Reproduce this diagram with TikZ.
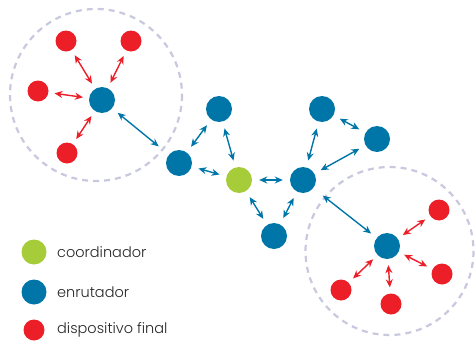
\documentclass[tikz,border=0pt]{standalone}
\usepackage{fontspec}
\setmainfont{Poppins Light}
\usetikzlibrary{arrows.meta}
\definecolor{cblue}{RGB}{0,118,168}
\definecolor{cred}{RGB}{236,30,40}
\definecolor{cgreen}{RGB}{166,204,58}
\definecolor{cring}{RGB}{200,200,222}
\tikzset{
  router/.style={circle,fill=cblue,minimum size=26pt,inner sep=0pt},
  coord/.style={circle,fill=cgreen,minimum size=26pt,inner sep=0pt},
  enddev/.style={circle,fill=cred,minimum size=21pt,inner sep=0pt},
  ring/.style={draw=cring,dashed,dash pattern=on 6pt off 5pt,line width=2.2pt},
  blink/.style={cblue,line width=1.4pt,{Stealth[length=8pt,width=7pt]}-{Stealth[length=8pt,width=7pt]},shorten <=7pt,shorten >=7pt},
  rlink/.style={cred,line width=1.4pt,{Stealth[length=8pt,width=7pt]}-{Stealth[length=8pt,width=7pt]},shorten <=6pt,shorten >=6pt},
  legtext/.style={anchor=west,font=\fontsize{14.5}{16}\selectfont,inner sep=0pt,text=black!85}
}
\begin{document}
\begin{tikzpicture}[x=1pt,y=-1pt]
\useasboundingbox (0,0) rectangle (476,340);
% rings
\draw[ring] (96,95) circle (86);
\draw[ring] (389.5,251) circle (84);
% left cluster
\node[router] (h1) at (102,100) {};
\node[enddev] (r1) at (66,41) {};
\node[enddev] (r2) at (131,41) {};
\node[enddev] (r3) at (38,91) {};
\node[enddev] (r4) at (67,153) {};
% middle
\node[router] (b1) at (179,163) {};
\node[router] (b2) at (219,109) {};
\node[coord] (g) at (239,180) {};
\node[router] (b3) at (303,180) {};
\node[router] (b4) at (274,236) {};
\node[router] (b5) at (322,109) {};
\node[router] (b6) at (377,139) {};
% right cluster
\node[router] (h2) at (387,246) {};
\node[enddev] (s1) at (439,210) {};
\node[enddev] (s2) at (442,274) {};
\node[enddev] (s3) at (391,304) {};
\node[enddev] (s4) at (341,290) {};
% red links
\foreach \r in {r1,r2,r3,r4} \draw[rlink] (h1) -- (\r);
\foreach \s in {s1,s2,s3,s4} \draw[rlink] (h2) -- (\s);
% blue links
\draw[blink,shorten >=13pt] (h1) -- (b1);
\draw[blink] (b1) -- (b2);
\draw[blink] (b2) -- (g);
\draw[blink] (b1) -- (g);
\draw[blink] (g) -- (b3);
\draw[blink] (g) -- (b4);
\draw[blink] (b4) -- (b3);
\draw[blink] (b3) -- (b5);
\draw[blink] (b5) -- (b6);
\draw[blink] (b6) -- (b3);
\draw[blink,shorten <=12pt] (b3) -- (h2);
% legend
\node[coord,minimum size=25pt] (lg) at (34,252) {};
\node[router,minimum size=25pt] (lb) at (34,292) {};
\node[enddev] (lr) at (34,330) {};
\node[legtext] (tg) at (57,252) {coordinador};
\node[legtext] (tb) at (57,292) {enrutador};
\node[legtext] (tr) at (57,330) {dispositivo final};
\end{tikzpicture}
\end{document}
